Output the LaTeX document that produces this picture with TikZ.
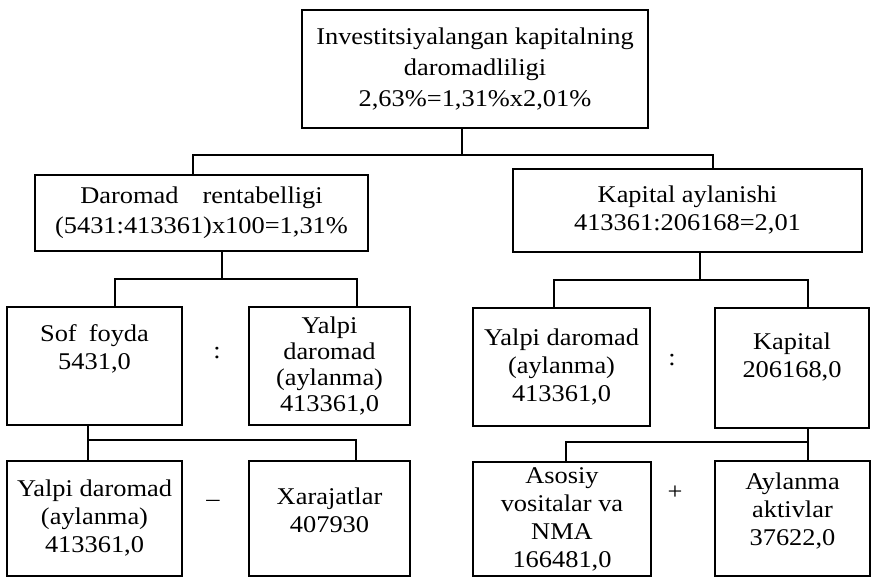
\documentclass[tikz,border=0pt]{standalone}
\usepackage{fontspec}
\setmainfont[FakeStretch=1.1]{Liberation Serif}
\usepackage{tikz}

\tikzset{
  blok/.style={draw, line width=1.6pt, align=center, inner sep=0pt},
  amal/.style={inner sep=0pt},
}

\begin{document}
\begin{tikzpicture}[x=1pt,y=-1pt,font=\fontsize{24}{28}\selectfont,line width=1.5pt]
      \useasboundingbox (0,0) rectangle (874,578);
      \node[blok,minimum width=346pt,minimum height=118pt,font=\fontsize{24}{31}\selectfont] (top) at (475,69)
            {Investitsiyalangan kapitalning\\daromadliligi\\2,63\%=1,31\%x2,01\%};
      \node[blok,minimum width=333pt,minimum height=76pt,font=\fontsize{24}{30}\selectfont] (dar) at (201.5,213)
            {Daromad\quad rentabelligi\\(5431:413361)x100=1,31\%};
      \node[blok,minimum width=349pt,minimum height=83pt] (kap) at (687.5,210.5)
            {Kapital aylanishi\\413361:206168=2,01};
      \node[blok,minimum width=175pt,minimum height=118pt,text depth=37pt] (sof) at (94.5,366)
            {Sof\enspace foyda\\5431,0};
      \node[blok,minimum width=161pt,minimum height=118pt,font=\fontsize{24}{26}\selectfont] (yalm) at (329.5,366)
            {Yalpi\\daromad\\(aylanma)\\413361,0};
      \node[blok,minimum width=177pt,minimum height=118pt] (yalr) at (561.5,367)
            {Yalpi daromad\\(aylanma)\\413361,0};
      \node[blok,minimum width=154pt,minimum height=120pt,text depth=25pt] (kapm) at (792,368)
            {Kapital\\206168,0};
      \node[blok,minimum width=175pt,minimum height=115pt] (yalb) at (94.5,518.5)
            {Yalpi daromad\\(aylanma)\\413361,0};
      \node[blok,minimum width=161pt,minimum height=115pt,text depth=16pt] (xar) at (329.5,518.5)
            {Xarajatlar\\407930};
      \node[blok,minimum width=178pt,minimum height=114pt] (asos) at (562,519)
            {Asosiy\\vositalar va\\NMA\\166481,0};
      \node[blok,minimum width=155pt,minimum height=115pt,text depth=19pt] (ayl) at (792.5,518.5)
            {Aylanma\\aktivlar\\37622,0};
      \node[amal] (bol1) at (217,353) {:};
      \node[amal] (bol2) at (672,360) {:};
      \node[amal] (ayir) at (213,503) {--};
      \node[amal] (qosh) at (675,493) {+};
      \coordinate (j1) at (462,155);
      \coordinate (j2) at (222,279);
      \coordinate (j3) at (700,280);
      \coordinate (j4) at (88,440);
      \coordinate (j5) at (808,442);
      \draw ([xshift=-13pt]top.south) -- (j1);
      \draw ([xshift=-8.5pt]dar.north) |- (j1) -| ([xshift=25.5pt]kap.north);
      \draw ([xshift=20.5pt]dar.south) -- (j2);
      \draw ([xshift=20.5pt]sof.north) |- (j2) -| ([xshift=27.5pt]yalm.north);
      \draw ([xshift=12.5pt]kap.south) -- (j3);
      \draw ([xshift=-7.5pt]yalr.north) |- (j3) -| ([xshift=16pt]kapm.north);
      \draw ([xshift=-6.5pt]sof.south) -- ([xshift=-6.5pt]yalb.north);
      \draw (j4) -| ([xshift=26.5pt]xar.north);
      \draw ([xshift=16pt]kapm.south) -- ([xshift=15.5pt]ayl.north);
      \draw (j5) -| ([xshift=4pt]asos.north);
    \end{tikzpicture}
\end{document}
